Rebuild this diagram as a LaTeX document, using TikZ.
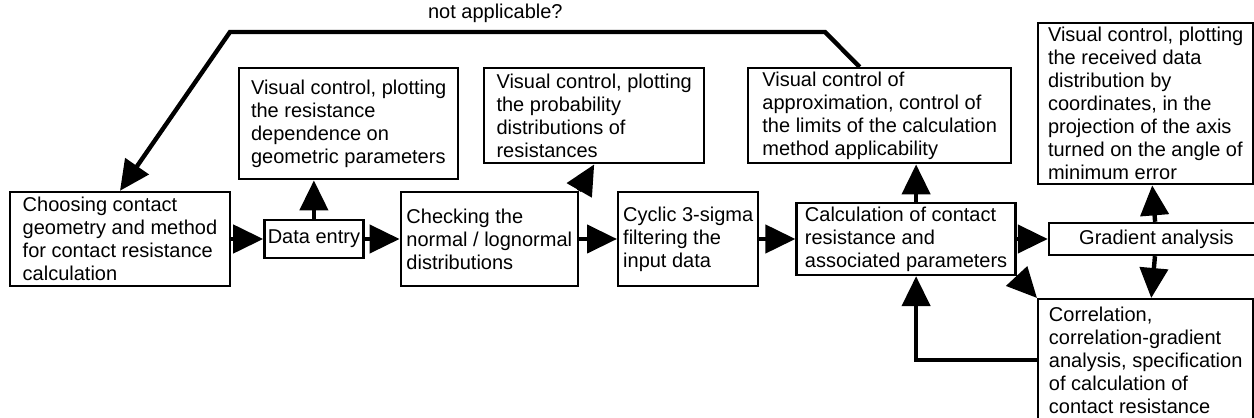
\documentclass[tikz,border=0pt]{standalone}
\usepackage{fontspec}
\setmainfont{Liberation Sans}
\usetikzlibrary{positioning,arrows.meta}

\begin{document}
\begin{tikzpicture}[
	block node/.style={draw,line width=1.2pt,align=left,inner sep=1pt,font=\fontsize{10}{11.5}\selectfont},
	flow/.style={line width=2.2pt,-{Triangle[length=15pt,width=14pt]}}]

		\useasboundingbox (0,0) rectangle (627pt,209pt);

		% main row
		\node[block node, minimum width=110pt, minimum height=47pt] (choose) at (60pt,89.5pt) {Choosing contact\\geometry and method\\for contact resistance\\calculation};
		\node[block node, minimum width=49.5pt, minimum height=19pt] (entry) [right=16pt of choose] {Data entry};
		\node[block node, minimum width=88.5pt, minimum height=47pt] (check) [right=17.5pt of entry] {Checking the\\normal / lognormal\\distributions};
		\node[block node, minimum width=70pt, minimum height=47pt] (filter) [right=19pt of check] {Cyclic 3-sigma\\filtering the\\input data};
		\node[block node, minimum width=109.5pt, minimum height=36pt] (calc) [right=18pt of filter] {Calculation of contact\\resistance and\\associated parameters};
		\node[block node, align=center, minimum width=107.5pt, minimum height=16pt] (grad) [right=15.5pt of calc] {Gradient analysis};

		% control boxes
		\node[block node, anchor=north west, minimum width=109.5pt, minimum height=55.5pt] (plotgeo) at (119pt,175.5pt) {Visual control, plotting\\the resistance\\dependence on\\geometric parameters};
		\node[block node, anchor=north west, minimum width=110pt, minimum height=47.5pt] (plotprob) at (241.5pt,175.5pt) {Visual control, plotting\\the probability\\distributions of\\resistances};
		\node[block node, anchor=north west, minimum width=131.5pt, minimum height=47.5pt] (approx) at (373.5pt,175.5pt) {Visual control of\\approximation, control of\\the limits of the calculation\\method applicability};
		\node[block node, anchor=north west, minimum width=107.5pt, minimum height=80.5pt] (plotdata) at (518.5pt,198pt) {Visual control, plotting\\the received data\\distribution by\\coordinates, in the\\projection of the axis\\turned on the angle of\\minimum error};
		\node[block node, anchor=north west, minimum width=107.5pt, minimum height=61pt] (corr) at (518.5pt,60pt) {Correlation,\\correlation-gradient\\analysis, specification\\of calculation of\\contact resistance};

		\coordinate (bendR) at (412.5pt,193pt);
		\coordinate (bendL) at (115pt,193pt);

		\path[flow]
		(choose) edge (entry)
		(entry) edge (check)
		(check) edge (filter)
		(filter) edge (calc)
		(calc) edge (grad)
		(entry.north) edge (entry.north |- plotgeo.south)
		(check.north east) edge (plotprob.south)
		([xshift=5pt]calc.north) edge ([xshift=5pt]calc.north |- approx.south)
		(calc.south east) edge (corr.north west)
		(grad) edge (plotdata)
		edge (corr);

		\draw[flow]
		([xshift=-10pt]approx.north)
		-- (bendR)
		-- node[above, pos=0.554, font=\fontsize{10}{11.5}\selectfont] {not applicable?} (bendL)
		-- (choose.north);

		\draw[flow] (corr.west) -| ([xshift=5pt]calc.south);

\end{tikzpicture}
\end{document}
